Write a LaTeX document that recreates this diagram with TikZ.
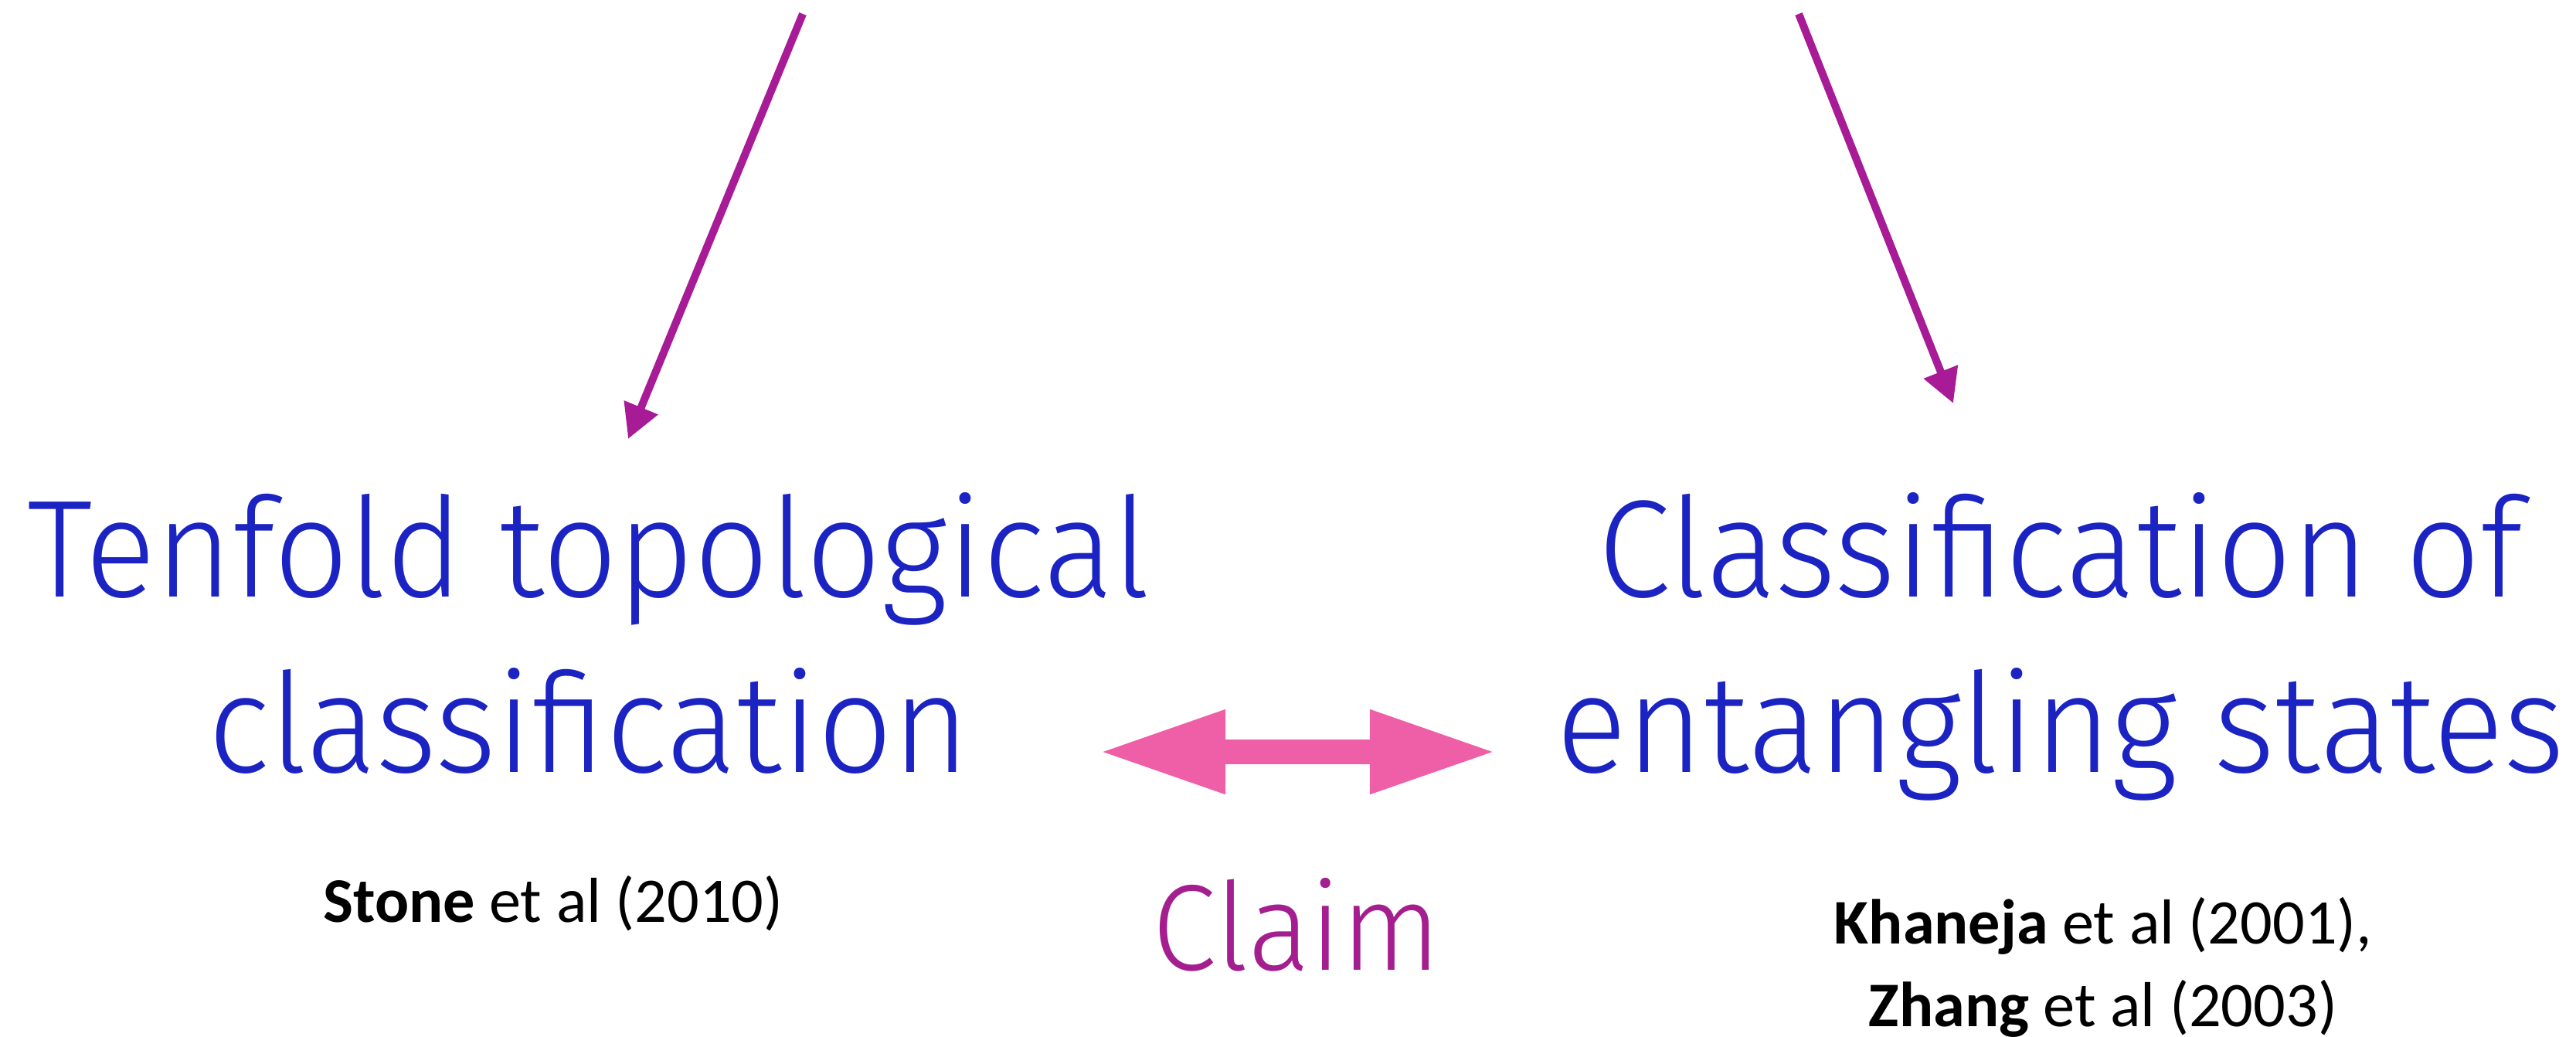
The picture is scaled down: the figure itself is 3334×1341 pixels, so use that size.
\documentclass[tikz,border=0pt]{standalone}
\usepackage{fontspec}
\setmainfont{Carlito}
\newfontfamily\headfont{Fira Sans}[UprightFont=* Light, FakeStretch=0.95]
\usetikzlibrary{arrows.meta}
\definecolor{headblue}{RGB}{27,36,194}
\definecolor{linkpurple}{RGB}{168,27,150}
\definecolor{claimpurple}{RGB}{165,30,143}
\definecolor{claimpink}{RGB}{239,95,167}

\begin{document}
\begin{tikzpicture}[x=0.01cm, y=-0.01cm,
  heading/.style={font=\headfont\fontsize{51}{64.3}\selectfont,
    text=headblue, align=center, anchor=base, inner sep=0pt},
  cite/.style={font=\fontsize{23.4}{30.2}\selectfont,
    align=center, anchor=base, inner sep=0pt},
  feed/.style={-{Triangle[length=0.44cm,width=0.45cm]},
    line width=0.1cm, linkpurple},
  equiv/.style={{Triangle[length=1.65cm,width=1.0cm]}-{Triangle[length=1.65cm,width=1.0cm]},
    line width=0.32cm, claimpink},
]
  \useasboundingbox (0,0) rectangle (3334,1341);

  % Headings (base = last line)
  \node[heading] (tenfold) at (762,999)
    {Tenfold topological\\classification};
  \node[heading] (entangle) at (2667,999)
    {Classification of\\entangling states};

  % References
  \node[cite] (stone) at (716,1193) {\textbf{Stone} et al (2010)};
  \node[cite] (khaneja) at (2722,1328)
    {\textbf{Khaneja} et al (2001),\\\textbf{Zhang} et al (2003)};

  % Claim
  \node[font=\headfont\fontsize{45}{50}\selectfont, text=claimpurple,
    anchor=base, inner sep=0pt] (claim) at (1678,1255) {Claim};

  % Arrows from above
  \coordinate (srcL) at (1039,18);
  \coordinate (tipL) at (813,568);
  \coordinate (srcR) at (2328,18);
  \coordinate (tipR) at (2528,522);
  \draw[feed] (srcL) -- (tipL);
  \draw[feed] (srcR) -- (tipR);

  % Equivalence arrow
  \coordinate (eqL) at (1421,973);
  \coordinate (eqR) at (1938,973);
  \draw[equiv] (eqL) -- (eqR);
\end{tikzpicture}
\end{document}
